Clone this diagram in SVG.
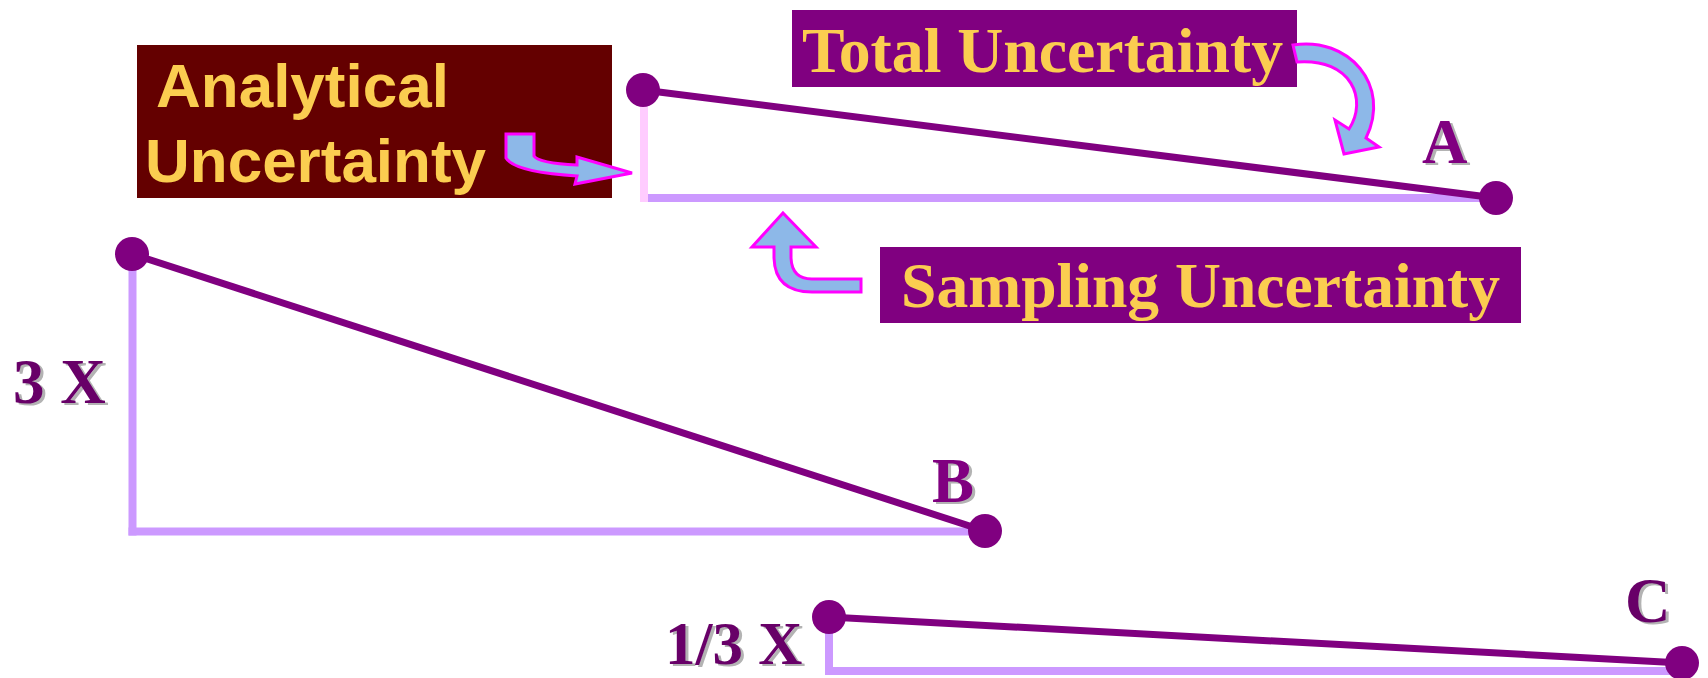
<svg xmlns="http://www.w3.org/2000/svg" width="1708" height="678" viewBox="0 0 1708 678">
<style>
.lab{font-family:"Liberation Serif","Times New Roman",serif;font-weight:bold;font-size:63px;}
.yel{fill:#FBCD50;}
.sans{font-family:"Liberation Sans",Arial,sans-serif;font-weight:bold;font-size:62px;}
.ser{font-family:"Liberation Serif","Times New Roman",serif;font-weight:bold;font-size:64px;}
.hyp{stroke:#800080;stroke-width:7;fill:none;}
.leg{stroke:#CC99FF;stroke-width:8;fill:none;}
.dot{fill:#800080;}
.arr{fill:#8DB8E8;stroke:#FF00FF;stroke-width:3;stroke-linejoin:miter;}
.shadow{fill:#B3B3B3;}
.pl{fill:#800080;}
.pd{fill:#680068;}
</style>
<rect width="1708" height="678" fill="#FFFFFF"/>
<g id="connectors">
  <line class="leg" x1="644" y1="90" x2="644" y2="202" style="stroke:#FFCCFF"/>
  <line class="leg" x1="648" y1="198" x2="1496" y2="198"/>
  <line class="hyp" x1="643" y1="90" x2="1496" y2="198"/>
  <line class="leg" x1="132.5" y1="254" x2="132.5" y2="535.5"/>
  <line class="leg" x1="128.5" y1="531.5" x2="985" y2="531.5"/>
  <line class="hyp" x1="132" y1="254" x2="985" y2="531"/>
  <line class="leg" x1="829" y1="617" x2="829" y2="675"/>
  <line class="leg" x1="825" y1="671" x2="1682" y2="671"/>
  <line class="hyp" x1="829" y1="617" x2="1682" y2="663"/>
</g>
<g id="triangleA">
  <circle class="dot" cx="643" cy="90" r="17"/>
  <circle class="dot" cx="1496" cy="198" r="17"/>
  <text class="lab shadow" x="1425" y="165">A</text>
  <text class="lab pl" x="1422" y="163">A</text>
</g>
<g id="triangleB">
  <circle class="dot" cx="132" cy="254" r="17"/>
  <circle class="dot" cx="985" cy="531" r="17"/>
  <text class="lab shadow" x="935" y="504">B</text>
  <text class="lab pl" x="932" y="502">B</text>
  <text class="lab shadow" x="16" y="405">3 X</text>
  <text class="lab pd" x="13" y="403">3 X</text>
</g>
<g id="triangleC">
  <circle class="dot" cx="829" cy="617" r="17"/>
  <circle class="dot" cx="1682" cy="663" r="17"/>
  <text class="lab shadow" x="1628" y="624">C</text>
  <text class="lab pd" x="1625" y="622">C</text>
  <text class="lab shadow" x="668" y="666" style="font-size:61px">1/3 X</text>
  <text class="lab pd" x="665" y="664" style="font-size:61px">1/3 X</text>
</g>
<g id="analytical">
  <rect x="137" y="45" width="475" height="153" fill="#640000"/>
  <text class="sans yel" x="156" y="107">Analytical</text>
  <text class="sans yel" x="145" y="182">Uncertainty</text>
  <path class="arr" d="M506,134 L534,134 L534,156 Q538,163 577,165 L577,157 L632,173 L575,184 L577,176 Q514,172 506,158 Z"/>
</g>
<g id="total">
  <rect x="792" y="10" width="505" height="77" fill="#800080"/>
  <text class="ser yel" x="802" y="72" textLength="481" lengthAdjust="spacingAndGlyphs">Total Uncertainty</text>
  <path class="arr" d="M1293,45 C1348,36 1392,85 1366,138 L1379,147 L1344,154 L1335,120 L1349,129 C1368,100 1352,58 1297,62 Z"/>
</g>
<g id="sampling">
  <rect x="880" y="247" width="641" height="76" fill="#800080"/>
  <text class="ser yel" x="901" y="307" textLength="599" lengthAdjust="spacingAndGlyphs">Sampling Uncertainty</text>
  <path class="arr" d="M783,213 L816,247 L791,247 L791,258 Q792,279 812,279 L861,279 L861,292 L812,292 Q775,292 774,258 L774,247 L752,247 Z"/>
</g>
</svg>
